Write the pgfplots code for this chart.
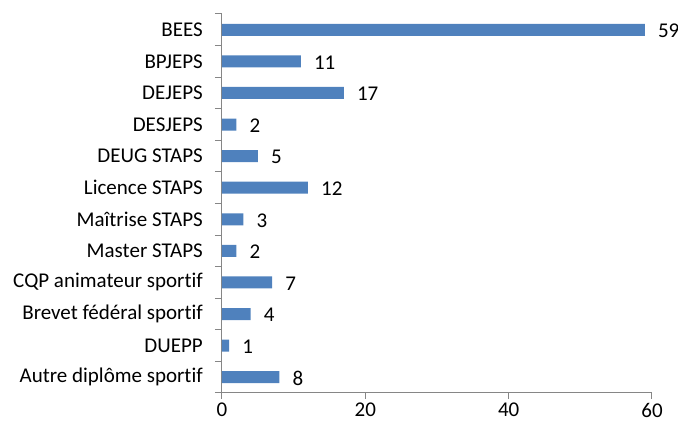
\documentclass[border=0pt]{standalone}
\usepackage{fontspec}
\setmainfont{Carlito}[Ligatures=NoCommon]
\usepackage{pgfplots}
\pgfplotsset{compat=1.18}
\definecolor{barblue}{HTML}{4F81BD}
\definecolor{axgray}{HTML}{868686}
\begin{document}
\fontsize{21}{25}\selectfont
\begin{tikzpicture}[x=1pt,y=1pt]
\useasboundingbox (0,0) rectangle (678,427);
\begin{axis}[
  at={(222pt,34pt)}, anchor=south west,
  scale only axis, width=430pt, height=379pt,
  xbar, bar width=12pt,
  xmin=0, xmax=60, ymin=-0.5, ymax=11.5,
  y dir=reverse,
  axis lines*=left,
  axis line style={axgray, line width=1pt},
  xtick={0,20,40,60},
  ytick={0,...,11},
  yticklabels={BEES,BPJEPS,DEJEPS,DESJEPS,DEUG STAPS,Licence STAPS,Maîtrise STAPS,Master STAPS,CQP animateur sportif,Brevet fédéral sportif,DUEPP,Autre diplôme sportif},
  minor ytick={-0.5,0.5,...,11.5},
  major y tick style={draw=none},
  minor y tick style={axgray, line width=1pt},
  major x tick style={axgray, line width=1pt},
  tick align=outside,
  major tick length=6pt, minor tick length=7pt,
  ticklabel style={font=\fontsize{21}{25}\selectfont, black},
  /pgf/number format/assume math mode=true,
  yticklabel style={xshift=-6pt},
  xticklabel style={yshift=-3pt, inner sep=1pt},
  clip=false,
  nodes near coords,
  every node near coord/.append style={font=\fontsize{21}{25}\selectfont, black, xshift=6pt, yshift=-1pt},
]
\addplot[fill=barblue, draw=none] coordinates {
(59,0) (11,1) (17,2) (2,3) (5,4) (12,5) (3,6) (2,7) (7,8) (4,9) (1,10) (8,11)
};
\end{axis}
\end{tikzpicture}
\end{document}
